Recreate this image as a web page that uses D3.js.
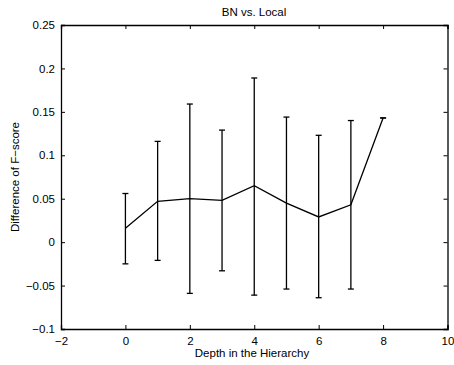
<!DOCTYPE html>
<html>
<head>
<meta charset="utf-8">
<script src="https://cdn.jsdelivr.net/npm/d3@7"></script>
<style>
  html, body { margin: 0; padding: 0; background: #fff; }
  svg { display: block; }
  text { font-family: "Liberation Sans", Arial, Helvetica, sans-serif; fill: #000; }
</style>
</head>
<body>
<svg id="chart" width="454" height="365"></svg>
<script>
// Depth levels and the mean F-score difference (BN minus Local) at each depth
const depths = [0, 1, 2, 3, 4, 5, 6, 7, 8];
const meanDiff = [0.016, 0.047, 0.050, 0.048, 0.065, 0.045, 0.029, 0.043, 0.143];
// Error bar ends
const upper = [0.056, 0.116, 0.159, 0.129, 0.189, 0.144, 0.123, 0.140, 0.143];
const lower = [-0.025, -0.021, -0.059, -0.033, -0.061, -0.054, -0.064, -0.054, 0.143];

const xTicks = [-2, 0, 2, 4, 6, 8, 10];
const yTicks = [-0.1, -0.05, 0, 0.05, 0.1, 0.15, 0.2, 0.25];

const svg = d3.select("#chart");
const plotLeft = 61, plotRight = 447.5, plotTop = 25, plotBottom = 329;
const fontSize = 11.5;

const x = d3.scaleLinear().domain([-2, 10]).range([plotLeft, plotRight]);
const y = d3.scaleLinear().domain([-0.1, 0.25]).range([plotBottom, plotTop]);

const fmt = v => (v === 0 ? "0" : String(v)).replace("-", "\u2212");

// Boxed axes with inward ticks on all four sides
const tick = 4;
svg.append("g").attr("transform", `translate(0,${plotBottom})`)
  .call(d3.axisBottom(x).tickValues(xTicks).tickSize(-tick).tickPadding(8).tickFormat(fmt));
svg.append("g").attr("transform", `translate(0,${plotTop})`)
  .call(d3.axisTop(x).tickValues(xTicks).tickSize(-tick).tickFormat(""));
svg.append("g").attr("transform", `translate(${plotLeft},0)`)
  .call(d3.axisLeft(y).tickValues(yTicks).tickSize(-tick).tickPadding(6).tickFormat(fmt));
svg.append("g").attr("transform", `translate(${plotRight},0)`)
  .call(d3.axisRight(y).tickValues(yTicks).tickSize(-tick).tickFormat(""));

svg.selectAll(".domain").attr("stroke", "#000").attr("stroke-width", 1.3);
svg.selectAll(".tick line").attr("stroke", "#000").attr("stroke-width", 1);
svg.selectAll(".tick text").attr("font-size", fontSize).attr("font-family", "Liberation Sans, Arial, sans-serif");

// Error bars
const data = depths.map((d, i) => ({ d, m: meanDiff[i], hi: upper[i], lo: lower[i] }));
const eb = svg.append("g").attr("stroke", "#000").attr("stroke-width", 1.3);
eb.selectAll("line.v").data(data).join("line").attr("class", "v")
  .attr("x1", d => x(d.d)).attr("x2", d => x(d.d))
  .attr("y1", d => y(d.hi)).attr("y2", d => y(d.lo));
const cap = 3;
eb.selectAll("line.t").data(data).join("line").attr("class", "t")
  .attr("x1", d => x(d.d) - cap).attr("x2", d => x(d.d) + cap)
  .attr("y1", d => y(d.hi)).attr("y2", d => y(d.hi));
eb.selectAll("line.b").data(data).join("line").attr("class", "b")
  .attr("x1", d => x(d.d) - cap).attr("x2", d => x(d.d) + cap)
  .attr("y1", d => y(d.lo)).attr("y2", d => y(d.lo));

// Mean line
svg.append("path").datum(data)
  .attr("fill", "none").attr("stroke", "#000").attr("stroke-width", 1.3)
  .attr("d", d3.line().x(d => x(d.d)).y(d => y(d.m)));

// Title and axis labels
svg.append("text").attr("x", 254).attr("y", 16)
  .attr("text-anchor", "middle").attr("font-size", fontSize).text("BN vs. Local");
svg.append("text").attr("x", 252).attr("y", 357)
  .attr("text-anchor", "middle").attr("font-size", fontSize).text("Depth in the Hierarchy");
svg.append("text").attr("transform", `translate(19,177) rotate(-90)`)
  .attr("text-anchor", "middle").attr("font-size", fontSize).text("Difference of F\u2212score");
</script>
</body>
</html>
